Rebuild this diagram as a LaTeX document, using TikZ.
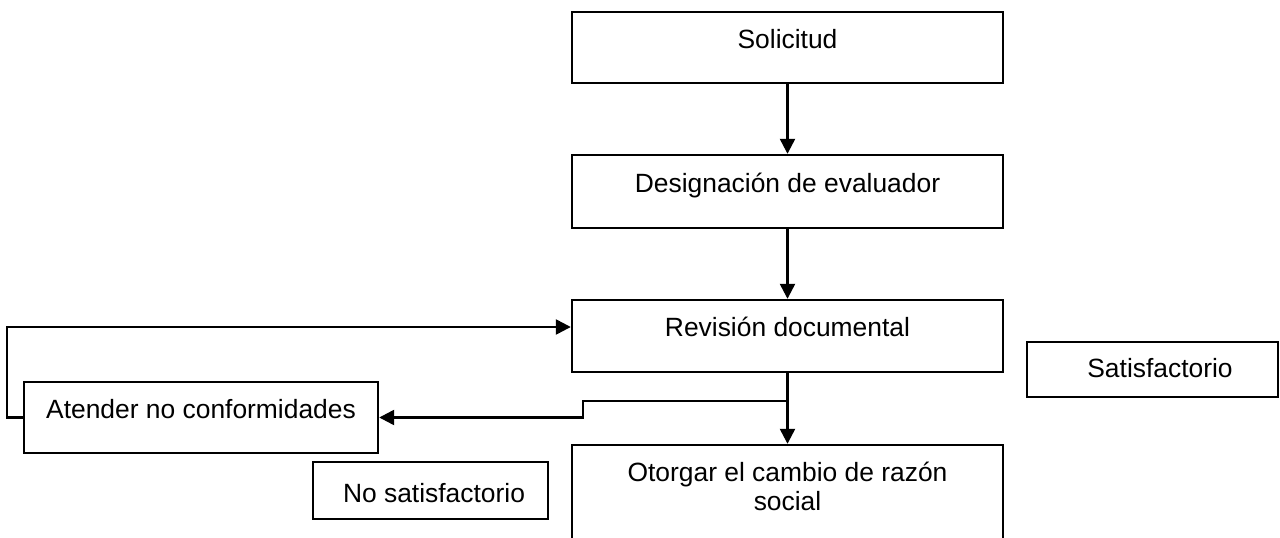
\documentclass[tikz,border=0pt]{standalone}
\usepackage{fontspec}
\setmainfont{Liberation Sans}
\usetikzlibrary{positioning}
\usetikzlibrary{arrows.meta}

\begin{document}
\begin{tikzpicture}[x=1pt,y=-1pt,
		caja/.style={draw,line width=2.4pt,inner sep=0pt},
		texto/.style={anchor=base,inner sep=0pt,font=\fontsize{26.4}{31}\selectfont},
		flecha/.style={line width=2.4pt,-{Triangle[length=15pt,width=15pt]}}]
		\path[use as bounding box,clip] (0,0) rectangle (1280,538);

		\node[caja,minimum width=431pt,minimum height=71pt](sol) at (787.5,47.5){};
		\node[caja,minimum width=431pt,minimum height=73pt](des) at (787.5,191.5){};
		\node[caja,minimum width=431pt,minimum height=72pt](rev) at (787.5,336){};
		\node[caja,minimum width=431pt,minimum height=155pt](oto) at (787.5,522.5){};

		\node[caja,minimum width=354pt,minimum height=71pt](ate) at (201,417.5){};
		\node[caja,minimum width=251pt,minimum height=55pt](sat) at (1152.5,369.5){};
		\node[caja,minimum width=235pt,minimum height=57pt](nos) at (430.5,490.5){};

		\node[texto](tsol) at (787.5,48){Solicitud};
		\node[texto](tdes) at (787.5,192){Designación de evaluador};
		\node[texto](trev) at (787.5,336){Revisión documental};
		\node[texto](toto) at (787.5,481){Otorgar el cambio de razón};
		\node[texto](toto2) at (787.5,510){social};
		\node[texto](tate) at (201,418){Atender no conformidades};
		\node[texto](tsat) at (1160,377){Satisfactorio};
		\node[texto](tnos) at (434,502){No satisfactorio};

		\coordinate(J) at (787.5,401);
		\coordinate(K) at (583,401);
		\coordinate(L) at (7,0);

		\draw[flecha] (sol) -- (des);
		\draw[flecha] (des) -- (rev);
		\draw[flecha] (rev.south) -- (oto.north);
		\draw[flecha] (J) -- (K) |- (ate.east);
		\draw[flecha] (ate.west) -- (ate.west -| L) |- ([yshift=9pt]rev.west);
	\end{tikzpicture}
\end{document}
